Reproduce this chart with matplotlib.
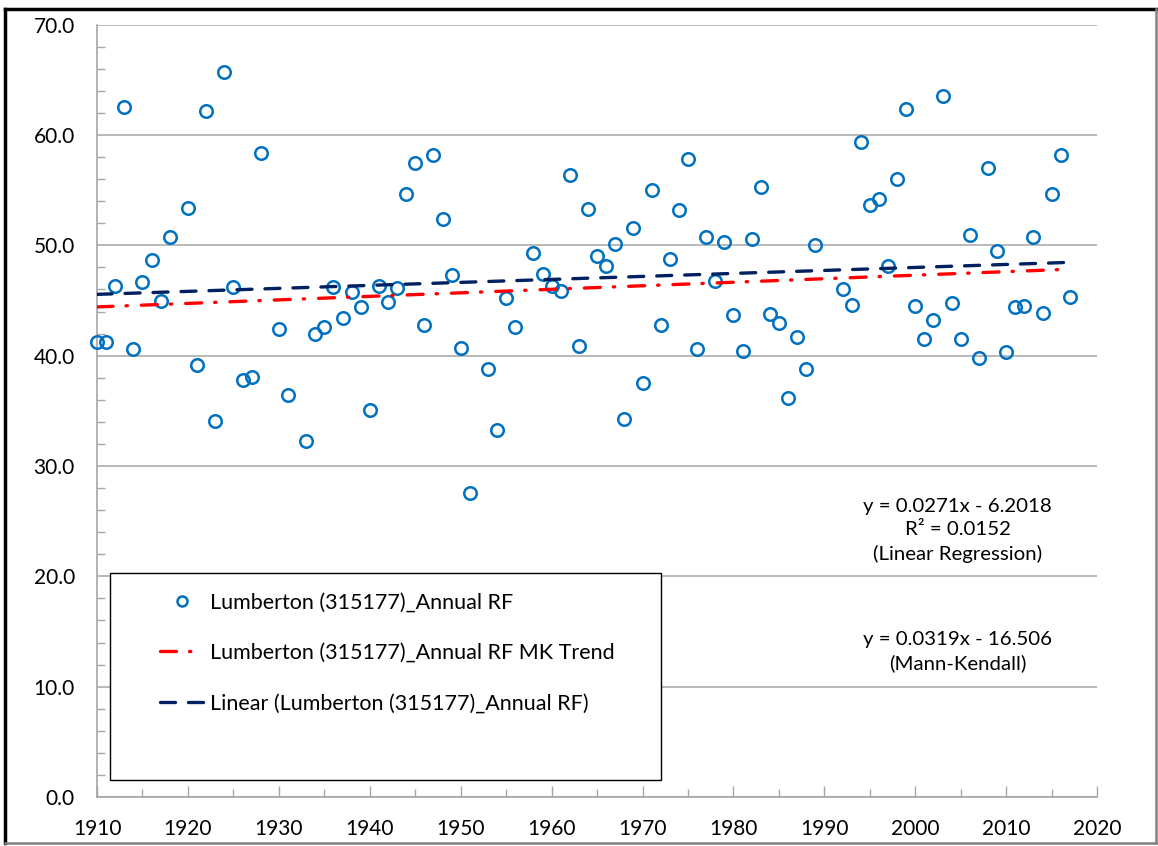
import matplotlib.pyplot as plt
from matplotlib.lines import Line2D
from matplotlib.patches import Rectangle
from matplotlib.ticker import MultipleLocator, FormatStrFormatter

# ==============================
# DATOS
# ==============================

anios = [1910, 1911, 1912, 1913, 1914, 1915, 1916, 1917, 1918, 1920,
         1921, 1922, 1923, 1924, 1925, 1926, 1927, 1928, 1930, 1931,
         1933, 1934, 1935, 1936, 1937, 1938, 1939, 1940, 1941, 1942,
         1943, 1944, 1945, 1946, 1947, 1948, 1949, 1950, 1951, 1953,
         1954, 1955, 1956, 1958, 1959, 1960, 1961, 1962, 1963, 1964,
         1965, 1966, 1967, 1968, 1969, 1970, 1971, 1972, 1973, 1974,
         1975, 1976, 1977, 1978, 1979, 1980, 1981, 1982, 1983, 1984,
         1985, 1986, 1987, 1988, 1989, 1992, 1993, 1994, 1995, 1996,
         1997, 1998, 1999, 2000, 2001, 2002, 2003, 2004, 2005, 2006,
         2007, 2008, 2009, 2010, 2011, 2012, 2013, 2014, 2015, 2016,
         2017]

lluvia_anual = [41.2, 41.2, 46.3, 62.5, 40.6, 46.7, 48.7, 45.0, 50.8, 53.4,
                39.2, 62.2, 34.1, 65.7, 46.2, 37.8, 38.1, 58.4, 42.4, 36.4,
                32.3, 42.0, 42.6, 46.2, 43.4, 45.8, 44.4, 35.1, 46.3, 44.9,
                46.1, 54.7, 57.5, 42.8, 58.2, 52.4, 47.3, 40.7, 27.6, 38.8,
                33.3, 45.2, 42.6, 49.3, 47.4, 46.3, 45.9, 56.4, 40.9, 53.3,
                49.0, 48.1, 50.1, 34.3, 51.6, 37.5, 55.0, 42.8, 48.8, 53.2,
                57.8, 40.6, 50.8, 46.8, 50.3, 43.7, 40.4, 50.6, 55.3, 43.8,
                43.0, 36.2, 41.7, 38.8, 50.0, 46.0, 44.6, 59.4, 53.7, 54.2,
                48.1, 56.0, 62.4, 44.5, 41.5, 43.2, 63.5, 44.8, 41.5, 50.9,
                39.8, 57.0, 49.5, 40.3, 44.4, 44.5, 50.8, 43.9, 54.7, 58.2,
                45.3]

# extremos de las rectas de tendencia
anios_tendencia = [1910, 2017]
tendencia_lineal = [45.56, 48.46]
tendencia_mk = [44.42, 47.84]

etiqueta_puntos = "Lumberton (315177)_Annual RF"
etiqueta_mk = "Lumberton (315177)_Annual RF MK Trend"
etiqueta_lineal = "Linear (Lumberton (315177)_Annual RF)"

texto_lineal = "y = 0.0271x - 6.2018\nR² = 0.0152\n(Linear Regression)"
texto_mk = "y = 0.0319x - 16.506\n(Mann-Kendall)"

# ==============================
# FIGURA
# ==============================

plt.rcParams["font.family"] = ["Lato", "DejaVu Sans"]

fig = plt.figure(figsize=(11.58, 8.46), dpi=100)
ax = fig.add_axes([0.0838, 0.0579, 0.8636, 0.9129])

gris = "#A6A6A6"

ax.plot(anios, lluvia_anual, linestyle="none", marker="o",
        markersize=9, markerfacecolor="none", markeredgecolor="#0070C0",
        markeredgewidth=1.8, label=etiqueta_puntos, zorder=3, clip_on=False)

ax.plot(anios_tendencia, tendencia_mk, color="#FF0000", linewidth=2.4,
        linestyle=(0, (4.8, 3.9, 0.4, 4.2)), dash_capstyle="round",
        label=etiqueta_mk, zorder=4)

ax.plot(anios_tendencia, tendencia_lineal, color="#002060", linewidth=2.4,
        linestyle=(0, (4.5, 3.9)), dash_capstyle="round",
        label=etiqueta_lineal, zorder=4)

ax.set_xlim(1910, 2020)
ax.set_ylim(0, 70)

ax.xaxis.set_major_locator(MultipleLocator(10))
ax.xaxis.set_minor_locator(MultipleLocator(5))
ax.yaxis.set_major_locator(MultipleLocator(10))
ax.yaxis.set_minor_locator(MultipleLocator(2))
ax.yaxis.set_major_formatter(FormatStrFormatter("%.1f"))

ax.tick_params(axis="both", which="both", direction="in", color=gris,
               labelsize=15, labelcolor="black")
ax.tick_params(axis="x", which="major", length=8, width=1, pad=16)
ax.tick_params(axis="x", which="minor", length=6, width=1)
ax.tick_params(axis="y", which="major", length=0, pad=16)
ax.tick_params(axis="y", which="minor", length=6, width=1)

ax.grid(True, axis="y", which="major", color=gris, linewidth=1.1)
ax.set_axisbelow(True)

for lado in ["top", "right"]:
    ax.spines[lado].set_visible(False)
for lado in ["left", "bottom"]:
    ax.spines[lado].set_color(gris)
    ax.spines[lado].set_linewidth(1.2)

# marco de la leyenda dibujado aparte (como en Excel)
marco = Rectangle((0.013, 0.022), 0.551, 0.268, transform=ax.transAxes,
                  facecolor="white", edgecolor="black", linewidth=1.0,
                  zorder=5)
ax.add_patch(marco)

leyenda = ax.legend(loc="upper left", bbox_to_anchor=(0.063, 0.265),
                    fontsize=15.5, frameon=False, borderpad=0,
                    labelspacing=1.42, handlelength=2.0, handletextpad=0.3,
                    borderaxespad=0, markerscale=0.8)
leyenda.set_zorder(6)

ax.text(0.8605, 0.3448, texto_lineal, transform=ax.transAxes, ha="center",
        va="center", fontsize=14.7, linespacing=1.45)
ax.text(0.8605, 0.188, texto_mk, transform=ax.transAxes, ha="center",
        va="center", fontsize=14.7, linespacing=1.45)

# borde exterior estilo Excel
fig.add_artist(Line2D([0.0043, 0.0043], [0.0035, 0.9894], color="black",
                      linewidth=2.5, transform=fig.transFigure))
fig.add_artist(Line2D([0.0043, 0.9987], [0.9894, 0.9894], color="black",
                      linewidth=2.5, transform=fig.transFigure))
fig.add_artist(Line2D([0.9987, 0.9987], [0.0035, 0.9894], color="#808080",
                      linewidth=1.8, transform=fig.transFigure))
fig.add_artist(Line2D([0.0043, 0.9987], [0.0035, 0.0035], color="#808080",
                      linewidth=1.8, transform=fig.transFigure))

plt.savefig("out.png", dpi=100)
plt.close()
